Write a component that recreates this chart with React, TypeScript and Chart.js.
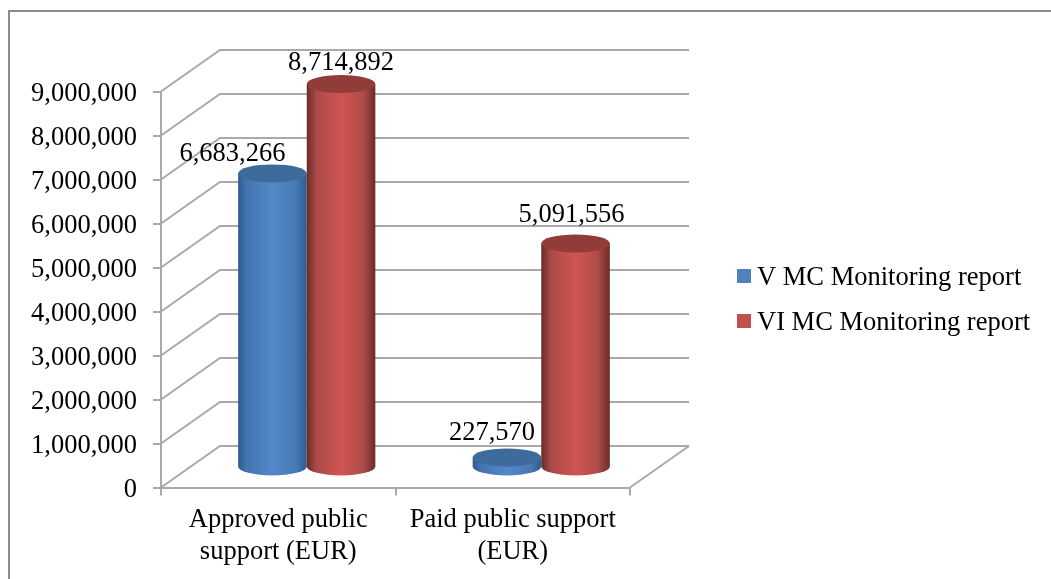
import React, { useEffect, useRef } from "react";
import { Chart, registerables } from "chart.js";

Chart.register(...registerables);

const categories = [
  ["Approved public", "support (EUR)"],
  ["Paid public support", "(EUR)"],
];
const seriesNames = ["V MC Monitoring report", "VI MC Monitoring report"];
const vMonitoring = [6683266, 227570];
const viMonitoring = [8714892, 5091556];
const yMax = 9000000;
const yStep = 1000000;

const FONT = '"Liberation Serif", "Times New Roman", serif';
const FS = 26.5;
const GRID = "#a9a9a9";
const DEPTH_X = 59;
const DEPTH_Y = -41.5;
const BAR_DX = 28.5;
const BAR_DY = -20;
const RY = 9;

// hand placement of the data labels relative to the bar-top centre
const labelNudge = [
  [[-40, -19], [-15, -24]],
  [[0, -21], [-4, -28]],
];

const styles = [
  {
    cap: "#3f6a9c",
    stops: [[0, "#2f5a8e"], [0.12, "#4374b0"], [0.5, "#5389ca"], [0.85, "#4678b4"], [1, "#2f5b90"]],
  },
  {
    cap: "#923c3a",
    stops: [[0, "#6b2a28"], [0.14, "#ab4a47"], [0.5, "#cf5552"], [0.82, "#b04c49"], [1, "#6c2c2a"]],
  },
];

const fmt = (v: number) => v.toLocaleString("en-US");

function drawCylinders(chart: any, index: number) {
  const { ctx } = chart;
  const meta = chart.getDatasetMeta(index);
  const st = styles[index];
  meta.data.forEach((bar: any) => {
    const { x, y, base, width } = bar.getProps(["x", "y", "base", "width"], true);
    const cx = x + BAR_DX;
    const top = y + BAR_DY;
    const bottom = base + BAR_DY;
    const rx = width / 2;
    ctx.save();
    const g = ctx.createLinearGradient(cx - rx, 0, cx + rx, 0);
    st.stops.forEach(([o, c]: any) => g.addColorStop(o, c));
    ctx.fillStyle = g;
    ctx.beginPath();
    ctx.moveTo(cx - rx, top);
    ctx.lineTo(cx - rx, bottom);
    ctx.ellipse(cx, bottom, rx, RY, 0, Math.PI, 0, true);
    ctx.lineTo(cx + rx, top);
    ctx.closePath();
    ctx.fill();
    ctx.fillStyle = st.cap;
    ctx.beginPath();
    ctx.ellipse(cx, top, rx, RY, 0, 0, Math.PI * 2);
    ctx.fill();
    ctx.restore();
  });
}

const scene = {
  id: "scene",
  afterUpdate(chart: any) {
    // the digits sit a little lower beside their ticks
    chart.scales.y.getLabelItems(chart.chartArea).forEach((item: any) => {
      item.options.translation[1] += 2.5;
    });
  },
  beforeDraw(chart: any) {
    const { ctx } = chart;
    ctx.save();
    ctx.fillStyle = "#ffffff";
    ctx.fillRect(0, 0, chart.width, chart.height);
    ctx.strokeStyle = "#8c8c8c";
    ctx.lineWidth = 2;
    ctx.beginPath();
    ctx.moveTo(9, chart.height);
    ctx.lineTo(9, 11);
    ctx.lineTo(chart.width, 11);
    ctx.stroke();
    ctx.restore();
  },
  beforeDatasetsDraw(chart: any) {
    const { ctx, scales, chartArea } = chart;
    ctx.save();
    ctx.strokeStyle = GRID;
    ctx.lineWidth = 2;
    const left = chartArea.left;
    const right = chartArea.right;
    scales.y.ticks.forEach((t: any) => {
      const y = scales.y.getPixelForValue(t.value);
      ctx.beginPath();
      ctx.moveTo(left, y);
      ctx.lineTo(left + DEPTH_X, y + DEPTH_Y);
      ctx.lineTo(right + DEPTH_X, y + DEPTH_Y);
      ctx.stroke();
    });
    const y0 = scales.y.getPixelForValue(0);
    ctx.beginPath();
    ctx.moveTo(right + DEPTH_X, y0 + DEPTH_Y);
    ctx.lineTo(right, y0);
    ctx.stroke();
    ctx.restore();
    chart.data.datasets.forEach((_: any, i: number) => drawCylinders(chart, i));
  },
  beforeDatasetDraw() {
    return false;
  },
  afterDraw(chart: any) {
    const { ctx } = chart;
    ctx.save();
    ctx.font = `${FS}px ${FONT}`;
    ctx.fillStyle = "#000000";
    ctx.textAlign = "center";
    ctx.textBaseline = "middle";
    chart.data.datasets.forEach((ds: any, i: number) => {
      chart.getDatasetMeta(i).data.forEach((bar: any, j: number) => {
        const { x, y } = bar.getProps(["x", "y"], true);
        const [nx, ny] = labelNudge[i][j];
        ctx.fillText(fmt(ds.data[j]), x + BAR_DX + nx, y + BAR_DY + ny);
      });
    });
    ctx.textAlign = "left";
    chart.data.datasets.forEach((ds: any, i: number) => {
      const top = 269 + i * 45;
      ctx.fillStyle = ds.backgroundColor;
      ctx.fillRect(737, top, 14, 14);
      ctx.fillStyle = "#000000";
      ctx.fillText(ds.label, 757, top + 9);
    });
    ctx.restore();
  },
};

export default function App() {
  const ref = useRef<HTMLCanvasElement>(null);
  useEffect(() => {
    const tickFont = { family: FONT, size: FS, lineHeight: 1.22 };
    const chart = new Chart(ref.current as HTMLCanvasElement, {
      type: "bar",
      data: {
        labels: categories as any,
        datasets: [
          { label: seriesNames[0], data: vMonitoring, backgroundColor: "#4f81bd" },
          { label: seriesNames[1], data: viMonitoring, backgroundColor: "#c0504d" },
        ],
      },
      options: {
        responsive: false,
        animation: false,
        layout: { autoPadding: false, padding: { left: 0, top: 91.5, right: 421, bottom: 0 } },
        plugins: { legend: { display: false }, tooltip: { enabled: false } },
        datasets: { bar: { categoryPercentage: 0.585, barPercentage: 1, clip: false } },
        scales: {
          x: {
            afterFit: (s: any) => { s.height = 91.5; },
            border: { color: GRID, width: 2 },
            grid: { drawOnChartArea: false, drawTicks: true, tickLength: 8, color: GRID, lineWidth: 2 },
            ticks: { color: "#000", font: tickFont, padding: 8, maxRotation: 0, autoSkip: false },
          },
          y: {
            min: 0,
            max: yMax,
            afterFit: (s: any) => { s.width = 161; },
            border: { color: GRID, width: 2 },
            grid: { drawOnChartArea: false, drawTicks: true, tickLength: 8, color: GRID, lineWidth: 2 },
            ticks: { color: "#000", font: tickFont, padding: 16, stepSize: yStep, callback: (v: any) => fmt(Number(v)) },
          },
        },
      } as any,
      plugins: [scene],
    });
    return () => chart.destroy();
  }, []);
  return (
    <div style={{ position: "absolute", left: 0, top: 0, width: 1051, height: 579 }}>
      <canvas ref={ref} width={1051} height={579} style={{ display: "block", filter: "blur(0.4px)" }} />
    </div>
  );
}
